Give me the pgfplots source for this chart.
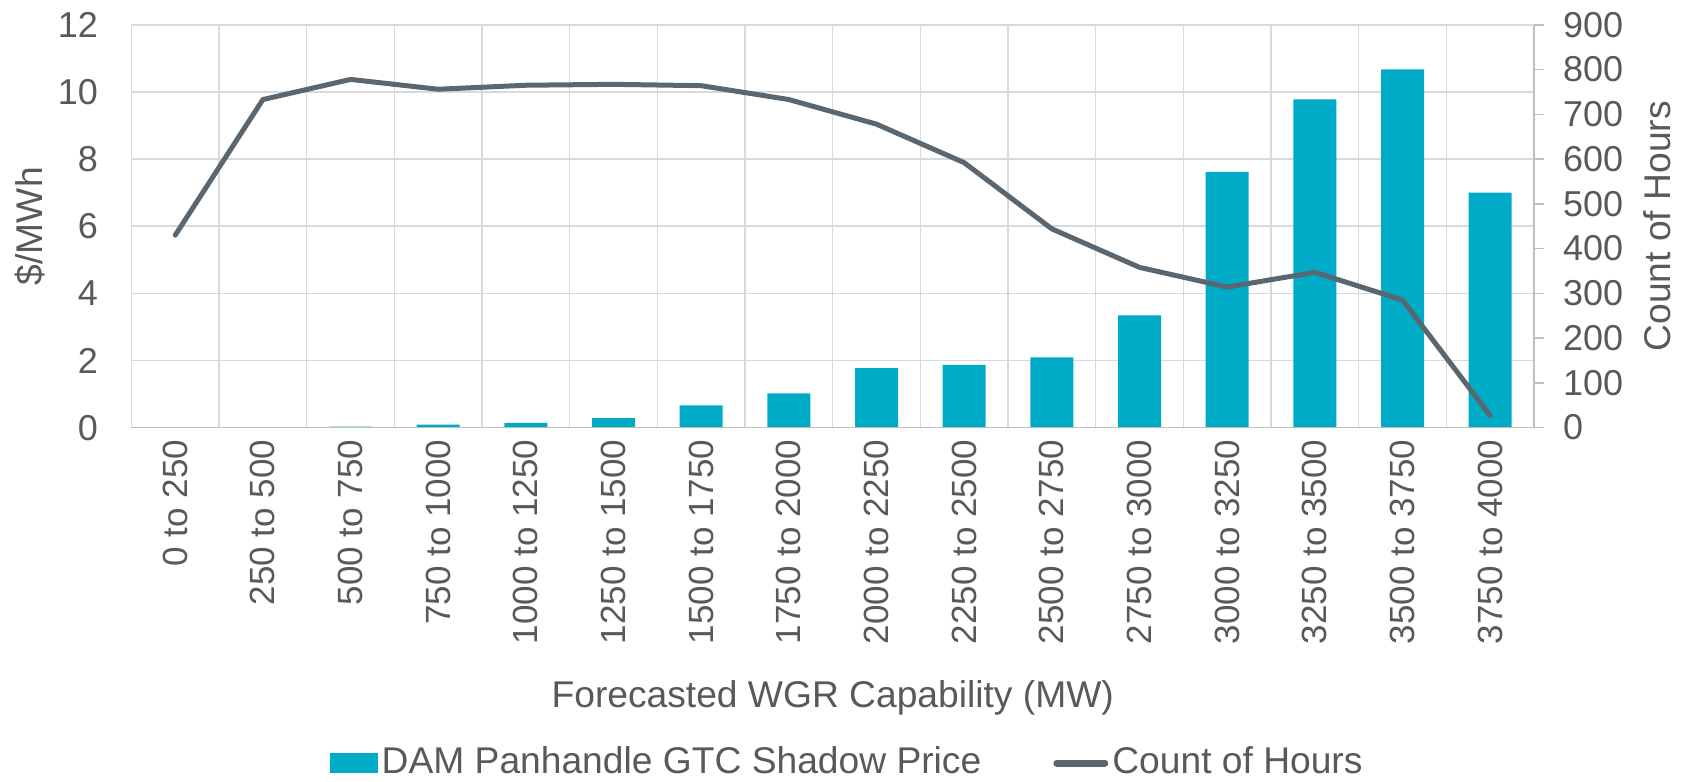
\documentclass[border=0pt]{standalone}
\usepackage{fontspec}
\setmainfont{Liberation Sans}
\usepackage{pgfplots}
\pgfplotsset{compat=1.18}
\definecolor{barc}{HTML}{00ABC7}
\definecolor{linec}{HTML}{5A6670}
\definecolor{txt}{HTML}{595959}
\definecolor{gridc}{HTML}{D9D9D9}
\definecolor{axc}{HTML}{BFBFBF}
\newcommand{\fs}{\fontsize{17.5pt}{21pt}\selectfont}
\newcommand{\fy}{\fontsize{18pt}{21pt}\selectfont}
\newcommand{\fl}{\fontsize{18.6pt}{22pt}\selectfont}
\begin{document}
\fs
\begin{tikzpicture}
\useasboundingbox (0,-390.5pt) rectangle (844.5pt,0);
\begin{axis}[
  at={(65.7pt,-213.8pt)}, anchor=south west,
  scale only axis, width=701.3pt, height=201.4pt,
  xmin=-0.5, xmax=15.5, ymin=0, ymax=12,
  ytick={0,2,...,12},
  xtick={0,...,15},
  xticklabels={0 to 250,250 to 500,500 to 750,750 to 1000,1000 to 1250,1250 to 1500,1500 to 1750,1750 to 2000,2000 to 2250,2250 to 2500,2500 to 2750,2750 to 3000,3000 to 3250,3250 to 3500,3500 to 3750,3750 to 4000},
  minor xtick={-0.5,0.5,1.5,2.5,3.5,4.5,5.5,6.5,7.5,8.5,9.5,10.5,11.5,12.5,13.5,14.5,15.5},
  xminorgrids=true, ymajorgrids=true, xmajorgrids=false,
  grid style={gridc, line width=0.75pt},
  minor grid style={gridc, line width=0.75pt},
  major tick length=0pt, minor tick length=0pt,
  axis line style={gridc, line width=0.75pt},
  tick label style={font=\fs, text=txt},
  /pgf/number format/assume math mode=true,
  xticklabel style={rotate=90, anchor=east},
  yticklabel style={xshift=-10.7pt, font=\fy},
  ylabel={\$/MWh},
  ylabel style={at={(axis description cs:-0.0723,0.5)}, anchor=center, font=\fl, text=txt},
  xlabel={Forecasted WGR Capability (MW)},
  xlabel style={at={(axis description cs:0.5,-0.671)}, anchor=center, font=\fl, text=txt},
  legend style={at={(axis description cs:0.511,-0.8327)}, anchor=center, draw=none, fill=none,
    legend columns=2, font=\fl, text=txt,
    /tikz/every even column/.append style={column sep=34pt}},
  legend cell align=left,
]
\addplot[ybar, bar width=21.5pt, fill=barc, draw=none,
  legend image code/.code={\fill[barc] (0pt,-4.8pt) rectangle (24pt,4.8pt);}]
coordinates {
(0,0) (1,0) (2,0.03) (3,0.09) (4,0.14) (5,0.28) (6,0.66) (7,1.02)
(8,1.77) (9,1.87) (10,2.09) (11,3.34) (12,7.62) (13,9.78) (14,10.67) (15,7.0)
};
\addlegendentry{DAM Panhandle GTC Shadow Price}
\addlegendimage{legend image code/.code={\draw[linec, line width=3.5pt, line cap=round] (1pt,0pt) -- (25pt,0pt);}}
\addlegendentry{Count of Hours}
\end{axis}
\begin{axis}[
  at={(65.7pt,-213.8pt)}, anchor=south west,
  scale only axis, width=701.3pt, height=201.4pt,
  xmin=-0.5, xmax=15.5, ymin=0, ymax=900,
  ytick={0,100,...,900},
  axis y line*=right, axis x line*=bottom,
  xtick=\empty,
  x axis line style={axc, line width=0.75pt},
  y axis line style={axc, line width=0.75pt},
  ytick style={axc, line width=0.75pt},
  major tick length=5pt, tick align=outside,
  tick label style={font=\fy, text=txt},
  yticklabel style={xshift=3.5pt},
  /pgf/number format/assume math mode=true,
  ylabel={Count of Hours},
  ylabel style={at={(axis description cs:1.0877,0.5)}, anchor=center, font=\fl, text=txt},
]
\addplot[linec, line width=2.5pt, line join=round, line cap=round] coordinates {
(0,430) (1,733) (2,778) (3,756) (4,765) (5,767) (6,764) (7,733)
(8,678) (9,592) (10,444) (11,358) (12,314) (13,347) (14,285) (15,27)
};
\end{axis}
\end{tikzpicture}
\end{document}
